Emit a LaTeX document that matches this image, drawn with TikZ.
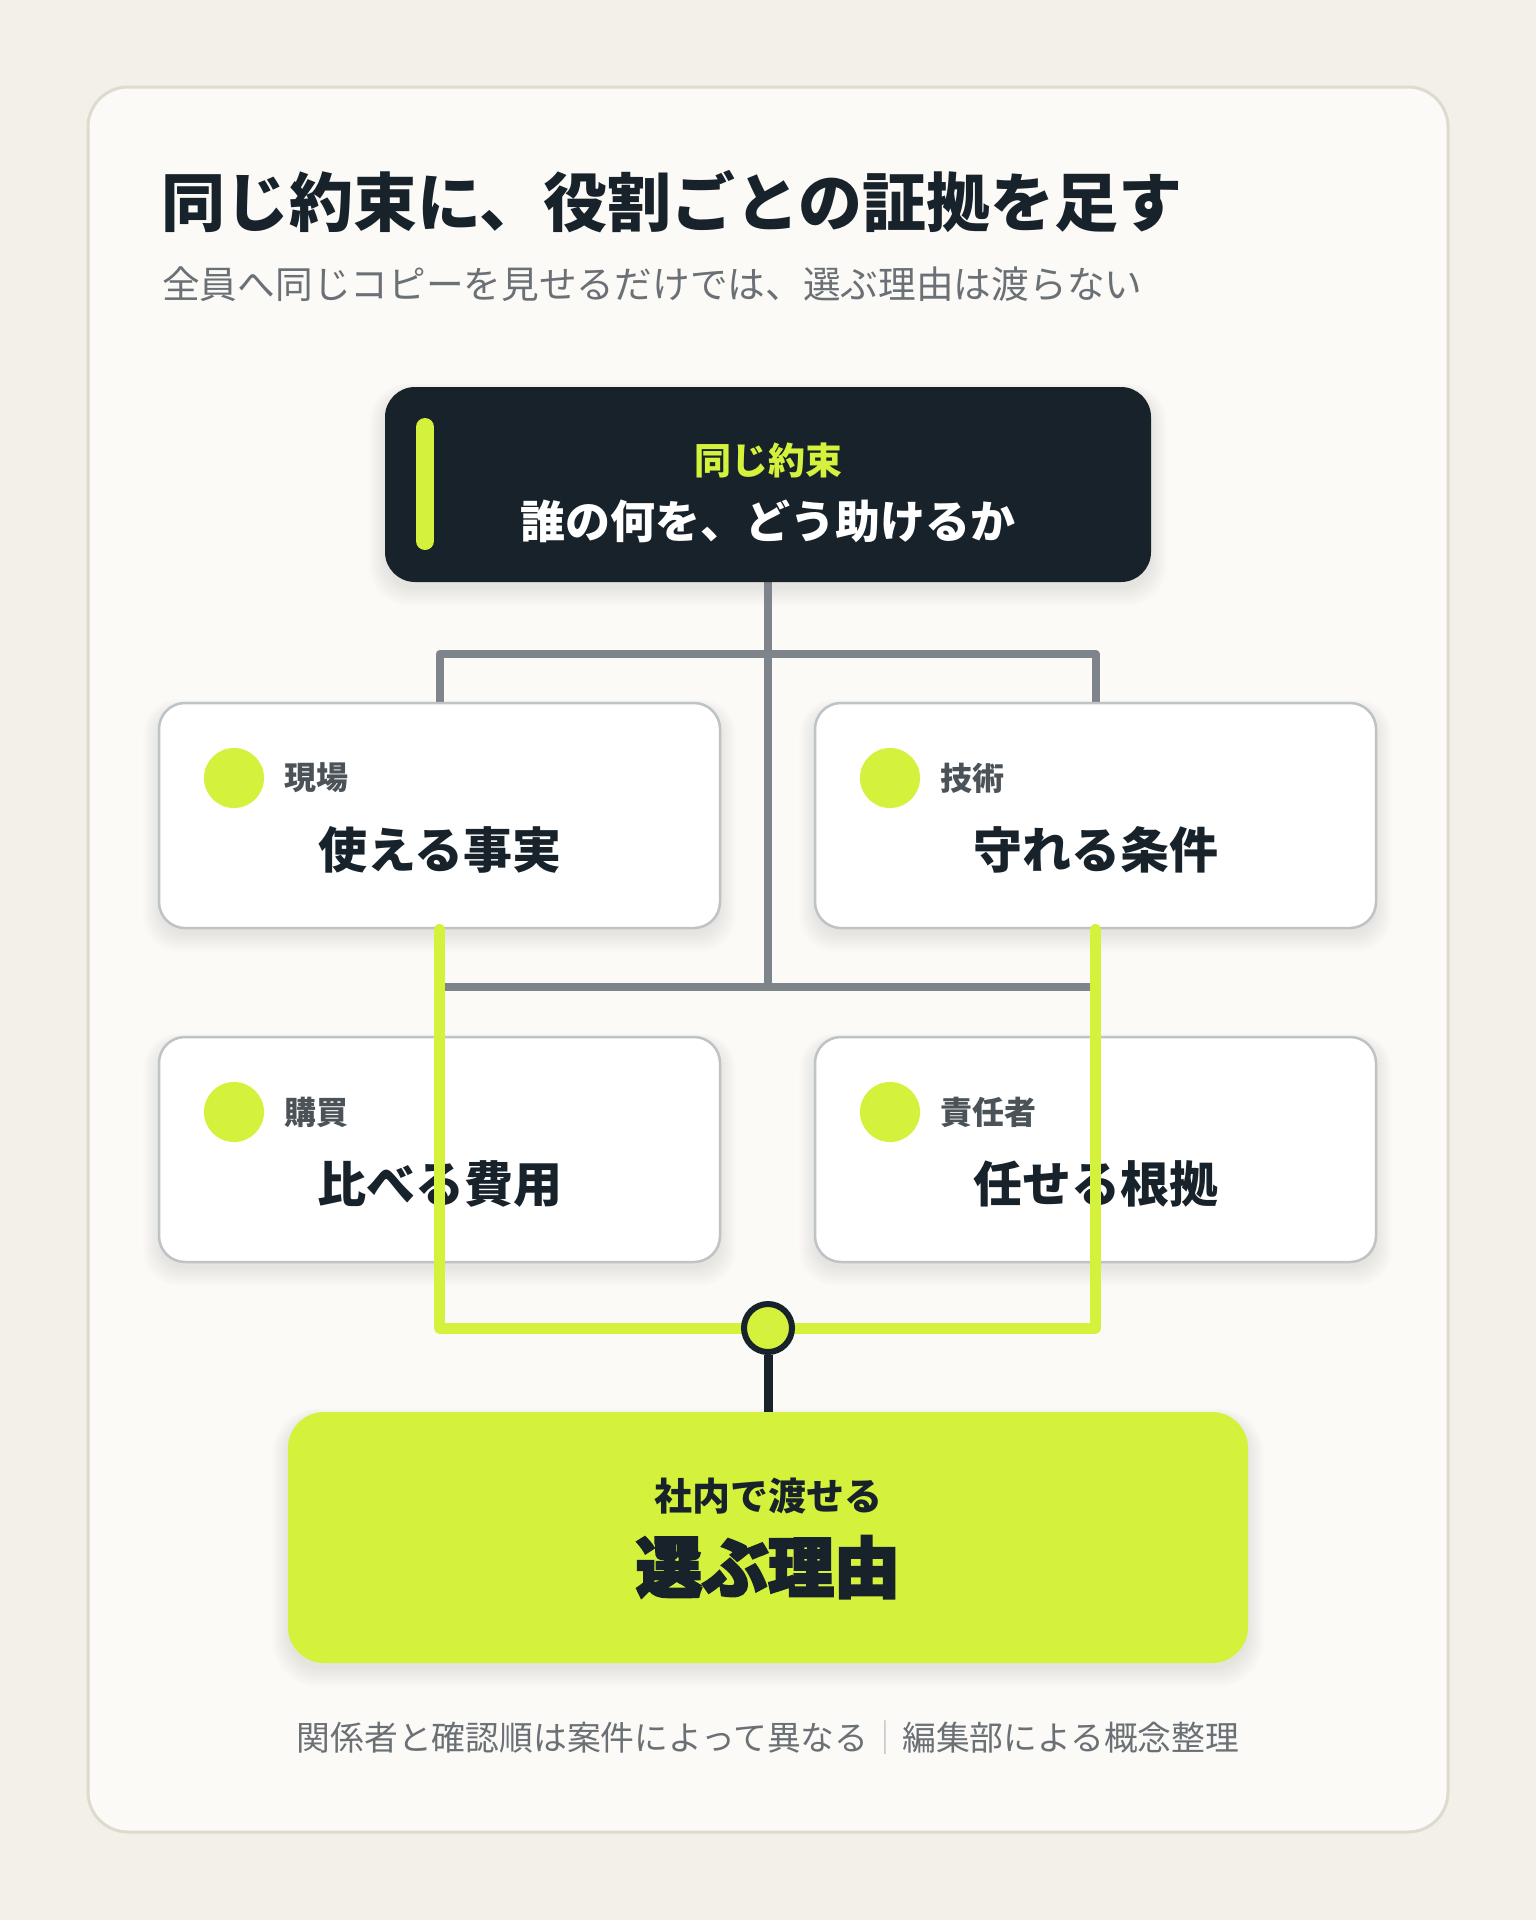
\documentclass[tikz,border=0pt]{standalone}
\usepackage{fontspec}
\newfontfamily\jp{Noto Sans CJK JP}
\newfontfamily\jpblack{Noto Sans CJK JP}[BoldFeatures={FakeBold=3.5}]
\newcommand\medsel{\jp\bfseries}
\definecolor{bgc}{HTML}{F2F0E9}
\definecolor{cardc}{HTML}{FBFAF6}
\definecolor{cardline}{HTML}{DEDACE}
\definecolor{navy}{HTML}{18222A}
\definecolor{lime}{HTML}{D4F23C}
\definecolor{grayline}{HTML}{7E858A}
\definecolor{boxline}{HTML}{BEC3C6}
\definecolor{labelgray}{HTML}{4B5359}
\definecolor{subgray}{HTML}{6A7075}
\pgfdeclarelayer{base}
\pgfdeclarelayer{conn}
\pgfsetlayers{base,conn,main}
\newcommand{\softshadow}[5]{%
  \foreach \k in {0,2,...,20}{%
    \fill[black,fill opacity=0.006,rounded corners=#5+\k*0.5]
      (#1-\k*0.8,#2+6-\k*0.5) rectangle (#3+\k*0.8,#4+6+\k*0.9);
  }%
}
\tikzset{
  rolebox/.style={draw=boxline,line width=2.5pt,fill=white,rounded corners=26pt,
    minimum width=561pt,minimum height=225pt,inner sep=0pt,rectangle},
  dot/.style={circle,fill=lime,minimum size=60pt,inner sep=0pt},
  rolelabel/.style={anchor=west,inner sep=0pt,text=labelgray,font=\jp\bfseries\fontsize{32}{36}\selectfont},
  rolemain/.style={inner sep=0pt,text=navy,font=\jp\bfseries\fontsize{49}{54}\selectfont},
  grayconn/.style={draw=grayline,line width=8pt,line join=round},
  limeconn/.style={draw=lime,line width=11pt,line cap=round,line join=round},
}
\begin{document}
\begin{tikzpicture}[x=1pt,y=-1pt]
\useasboundingbox (0,0) rectangle (1536,1920);
\begin{pgfonlayer}{base}
\fill[bgc] (0,0) rectangle (1536,1920);
\draw[cardline,line width=3pt,fill=cardc,rounded corners=40pt] (88,87) rectangle (1448,1832);
\softshadow{385}{387}{1151}{582}{30}
\softshadow{159}{703}{720}{928}{26}
\softshadow{815}{703}{1376}{928}{26}
\softshadow{159}{1037}{720}{1262}{26}
\softshadow{815}{1037}{1376}{1262}{26}
\softshadow{288}{1412}{1248}{1663}{36}
\end{pgfonlayer}
% title
\node[anchor=west,inner sep=0pt,text=navy,font=\jp\bfseries\fontsize{64}{70}\selectfont] (title) at (161,202) {同じ約束に、役割ごとの証拠を足す};
\node[anchor=west,inner sep=0pt,text=subgray,font=\jp\fontsize{37.7}{42}\selectfont] (subtitle) at (162,284) {全員へ同じコピーを見せるだけでは、選ぶ理由は渡らない};
% promise box
\node[rectangle,fill=navy,rounded corners=30pt,minimum width=766pt,minimum height=195pt,inner sep=0pt] (promise) at (768,484.5) {};
\draw[lime,line width=18pt,line cap=round] (425,427) -- (425,541);
\node[inner sep=0pt,text=lime,font=\medsel\fontsize{37}{42}\selectfont] (promlabel) at (768,460) {同じ約束};
\node[inner sep=0pt,text=white,font=\medsel\fontsize{45}{50}\selectfont] (promtext) at (768,521) {誰の何を、どう助けるか};
% role boxes
\node[rolebox] (tl) at (439.5,815.5) {};
\node[rolebox] (tr) at (1095.5,815.5) {};
\node[rolebox] (bl) at (439.5,1149.5) {};
\node[rolebox] (br) at (1095.5,1149.5) {};
\node[dot] (tldot) at (234,778) {};
\node[rolelabel] (tllab) at (284,778) {現場};
\node[rolemain] (tlmain) at (440,850) {使える事実};
\node[dot] (trdot) at (890,778) {};
\node[rolelabel] (trlab) at (940,778) {技術};
\node[rolemain] (trmain) at (1096,850) {守れる条件};
\node[dot] (bldot) at (234,1112) {};
\node[rolelabel] (bllab) at (284,1112) {購買};
\node[rolemain] (blmain) at (440,1184) {比べる費用};
\node[dot] (brdot) at (890,1112) {};
\node[rolelabel] (brlab) at (940,1112) {責任者};
\node[rolemain] (brmain) at (1096,1184) {任せる根拠};
% gray connectors on the connector layer (under the boxes)
\coordinate (jtop) at (768,654);
\coordinate (jbot) at (768,987);
\begin{pgfonlayer}{conn}
\draw[grayconn] (promise.south) -- (jbot);
\draw[grayconn] (tl.north) |- (jtop) -| (tr.north);
\draw[grayconn] (tl.south |- jbot) -- (tr.south |- jbot);
\end{pgfonlayer}
% goal box
\node[rectangle,fill=lime,rounded corners=36pt,minimum width=960pt,minimum height=251pt,inner sep=0pt] (goal) at (768,1537.5) {};
\node[inner sep=0pt,text=navy,font=\jp\bfseries\fontsize{38}{42}\selectfont] (goallab) at (768,1496) {社内で渡せる};
\node[inner sep=0pt,text=navy,font=\jpblack\bfseries\fontsize{66}{72}\selectfont] (goaltext) at (768,1567) {選ぶ理由};
% hub and lime connectors
\coordinate (hubc) at (768,1328);
\draw[limeconn] (tl.south) |- (hubc) -| (tr.south);
\node[circle,draw=navy,line width=6pt,fill=lime,minimum size=48pt,inner sep=0pt] (hub) at (hubc) {};
\draw[navy,line width=9pt] (hub.south) -- (goal.north);
% footer
\node[inner sep=0pt,text=subgray,font=\jp\fontsize{33.8}{38}\selectfont] (footer) at (768,1738) {関係者と確認順は案件によって異なる\textcolor{boxline}{｜}編集部による概念整理};
\end{tikzpicture}
\end{document}
